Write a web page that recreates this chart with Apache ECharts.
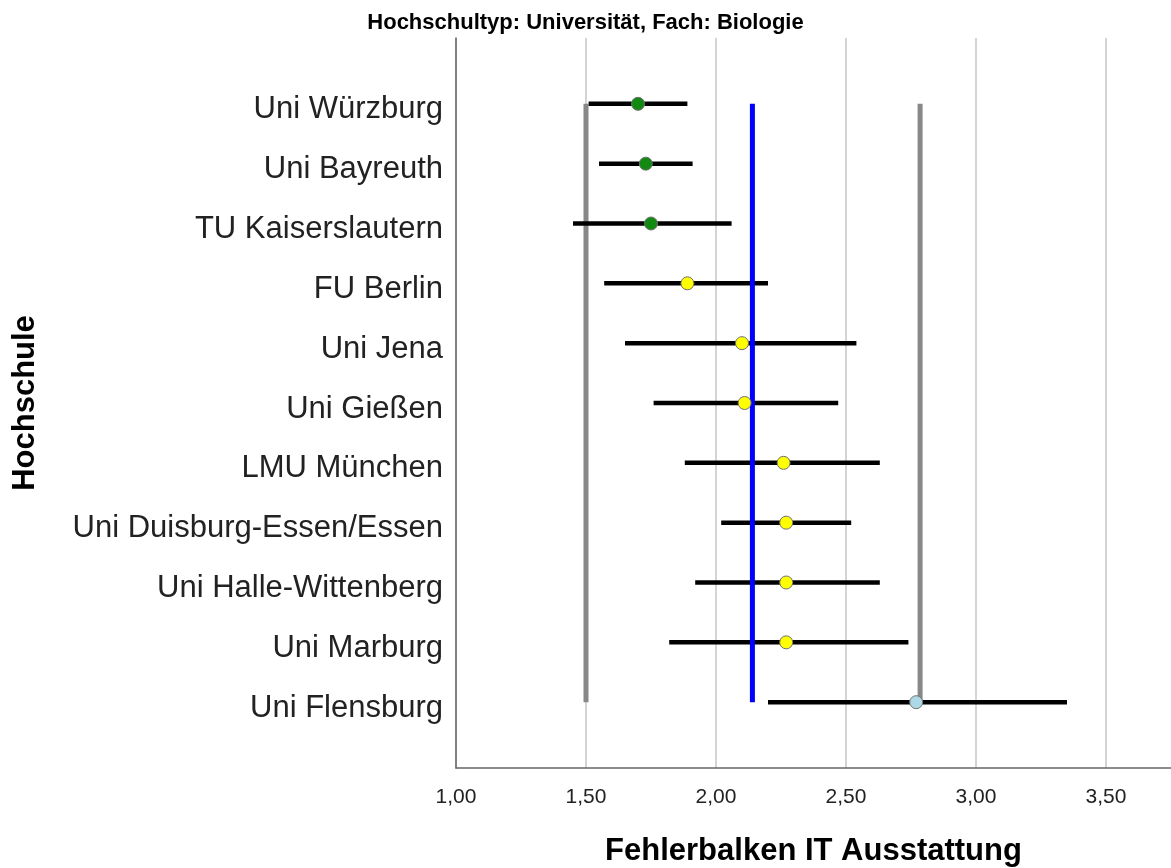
<!DOCTYPE html>
<html>
<head>
<meta charset="utf-8">
<script src="https://cdn.jsdelivr.net/npm/echarts@6/dist/echarts.min.js"></script>
<style>
  html, body { margin: 0; padding: 0; background: #fff; }
  #chart { width: 1171px; height: 868px; }
</style>
</head>
<body>
<div id="chart"></div>
<script>
// Hochschulen (top to bottom)
const hochschulen = [
  'Uni Würzburg', 'Uni Bayreuth', 'TU Kaiserslautern', 'FU Berlin', 'Uni Jena',
  'Uni Gießen', 'LMU München', 'Uni Duisburg-Essen/Essen', 'Uni Halle-Wittenberg',
  'Uni Marburg', 'Uni Flensburg'
];
// Mittelwerte und Fehlerbalken-Grenzen
const mittelwerte = [1.70, 1.73, 1.75, 1.89, 2.10, 2.11, 2.26, 2.27, 2.27, 2.27, 2.77];
const untere = [1.51, 1.55, 1.45, 1.57, 1.65, 1.76, 1.88, 2.02, 1.92, 1.82, 2.20];
const obere = [1.89, 1.91, 2.06, 2.20, 2.54, 2.47, 2.63, 2.52, 2.63, 2.74, 3.35];
// Farbgruppe je Hochschule
const gruppen = ['niedrig', 'niedrig', 'niedrig', 'mittel', 'mittel', 'mittel', 'mittel', 'mittel', 'mittel', 'mittel', 'hoch'];
// Referenzlinien
const referenzWerte = [1.50, 2.14, 2.785];
const referenzArt = ['grau', 'blau', 'grau'];

const gruppenFarbe = { niedrig: '#128a12', mittel: '#ffff00', hoch: '#add8e6' };
const linienFarbe = { grau: '#888888', blau: '#0000ff' };
const FONT = 'Liberation Sans, Arial, sans-serif';

const chart = echarts.init(document.getElementById('chart'));

const balkenDaten = hochschulen.map((n, i) => [untere[i], obere[i], i]);
const refDaten = referenzWerte.map((v, i) => [v, referenzArt[i]]);
const punktDaten = hochschulen.map((n, i) => ({
  value: [mittelwerte[i], i],
  itemStyle: { color: gruppenFarbe[gruppen[i]] }
}));

// senkrechte Referenzlinie von erster bis letzter Hochschule
function refLinie(farbe) {
  return (params, api) => {
    const a = api.coord([api.value(0), 0]);
    const b = api.coord([api.value(0), hochschulen.length - 1]);
    return {
      type: 'line',
      shape: { x1: a[0], y1: a[1], x2: b[0], y2: b[1] },
      style: { stroke: farbe, lineWidth: 5 }
    };
  };
}

const option = {
  animation: false,
  backgroundColor: '#fff',
  title: {
    text: 'Hochschultyp: Universität, Fach: Biologie',
    left: 'center',
    top: 7,
    textStyle: { fontFamily: FONT, fontSize: 22, fontWeight: 'bold', color: '#000' }
  },
  grid: { left: 456, right: 0, top: 38, bottom: 100, outerBoundsMode: 'none' },
  xAxis: {
    type: 'value',
    min: 1,
    max: 3.75,
    interval: 0.5,
    name: 'Fehlerbalken IT Ausstattung',
    nameLocation: 'middle',
    nameGap: 68,
    nameTextStyle: { fontFamily: FONT, fontSize: 31, fontWeight: 'bold', color: '#000' },
    axisLine: { show: true, onZero: false, lineStyle: { color: '#666', width: 1.5 } },
    axisTick: { show: false },
    axisLabel: {
      showMaxLabel: false,
      margin: 19,
      fontFamily: FONT,
      fontSize: 21,
      color: '#222',
      formatter: v => (Math.abs(v * 2 - Math.round(v * 2)) < 1e-6 ? v.toFixed(2).replace('.', ',') : '')
    },
    splitLine: { show: true, showMaxLine: false, lineStyle: { color: '#d4d4d4', width: 2 } }
  },
  yAxis: [
    {
      type: 'value',
      inverse: true,
      min: -1.1,
      max: 11.1,
      name: 'Hochschule',
      nameLocation: 'middle',
      nameGap: 415,
      nameRotate: 90,
      nameTextStyle: { fontFamily: FONT, fontSize: 31, fontWeight: 'bold', color: '#000' },
      axisLine: { show: true, onZero: false, lineStyle: { color: '#666', width: 1.5 } },
      axisTick: { show: false },
      splitLine: { show: false },
      axisLabel: { show: false }
    },
    {
      // nur Beschriftung, leicht nach unten versetzt wie im Original
      type: 'value',
      position: 'left',
      inverse: true,
      min: -1.2,
      max: 11.0,
      axisLine: { show: false },
      axisTick: { show: false },
      splitLine: { show: false },
      axisLabel: {
        customValues: hochschulen.map((n, i) => i),
        margin: 13,
        fontFamily: FONT,
        fontSize: 31,
        color: '#222',
        formatter: v => hochschulen[Math.round(v)] || ''
      }
    }
  ],
  series: [
    {
      type: 'custom',
      name: 'Referenz grau',
      z: 2,
      data: refDaten.filter(d => d[1] === 'grau'),
      renderItem: refLinie(linienFarbe.grau)
    },
    {
      type: 'custom',
      name: 'Fehlerbalken',
      z: 3,
      data: balkenDaten,
      renderItem: (params, api) => {
        const a = api.coord([api.value(0), api.value(2)]);
        const b = api.coord([api.value(1), api.value(2)]);
        return {
          type: 'line',
          shape: { x1: a[0], y1: a[1], x2: b[0], y2: b[1] },
          style: { stroke: '#000', lineWidth: 4.5 }
        };
      }
    },
    {
      type: 'custom',
      name: 'Referenz blau',
      z: 4,
      data: refDaten.filter(d => d[1] === 'blau'),
      renderItem: refLinie(linienFarbe.blau)
    },
    {
      type: 'scatter',
      name: 'Mittelwert',
      z: 5,
      symbol: 'circle',
      symbolSize: 13,
      itemStyle: { borderColor: '#707070', borderWidth: 1, opacity: 1 },
      data: punktDaten
    }
  ]
};

chart.setOption(option);
</script>
</body>
</html>
